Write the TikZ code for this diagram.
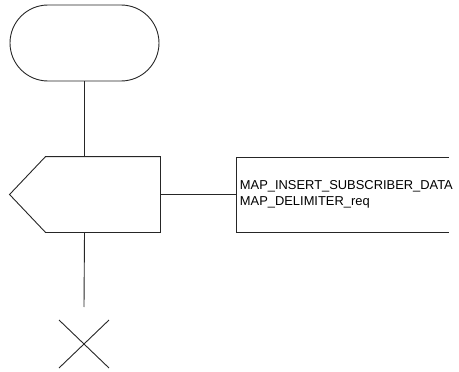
\documentclass[tikz,border=0pt]{standalone}
\usepackage{fontspec}
\setmainfont{Liberation Sans}
\usetikzlibrary{shapes.misc}
\begin{document}
\begin{tikzpicture}[x=1pt,y=-1pt,line width=0.9pt,
  ln/.style={draw=black!85},
  term/.style={rounded rectangle,draw=black!85,minimum width=149pt,minimum height=76pt,inner sep=0pt},
  box/.style={rectangle,minimum width=150pt,minimum height=75pt,inner sep=0pt},
  lbl/.style={anchor=west,inner sep=0pt,align=left,font=\fontsize{12.9pt}{15.5pt}\selectfont}]
\useasboundingbox (0,0) rectangle (459,372);
\node[term] (start) at (84.5,43) {};
\node[box] (send) at (85,194.5) {};
\draw[ln] (send.north east) -- ([xshift=36pt]send.north west) -- (send.west) -- ([xshift=36pt]send.south west) -- (send.south east) -- cycle;
\coordinate (ctop) at (236,157);
\coordinate (cbot) at (236,232);
\coordinate (cmid) at (236,194.5);
\draw[ln] (449,157) -- (ctop) -- (cbot) -- (449,232);
\node[lbl] (txt) at (239.5,194.5) {MAP\_INSERT\_SUBSCRIBER\_DATA\\MAP\_DELIMITER\_req};
\coordinate (xtop) at (84,307);
\coordinate (xc) at (84,344);
\draw[ln] (start.south) -- (start.south |- send.north);
\draw[ln] (send.east) -- (cmid);
\draw[ln] (start.south |- send.south) -- (xtop);
\draw[ln] ([shift={(-25,-24)}]xc) -- ([shift={(25,24)}]xc);
\draw[ln] ([shift={(25,-24)}]xc) -- ([shift={(-25,24)}]xc);
\end{tikzpicture}
\end{document}
